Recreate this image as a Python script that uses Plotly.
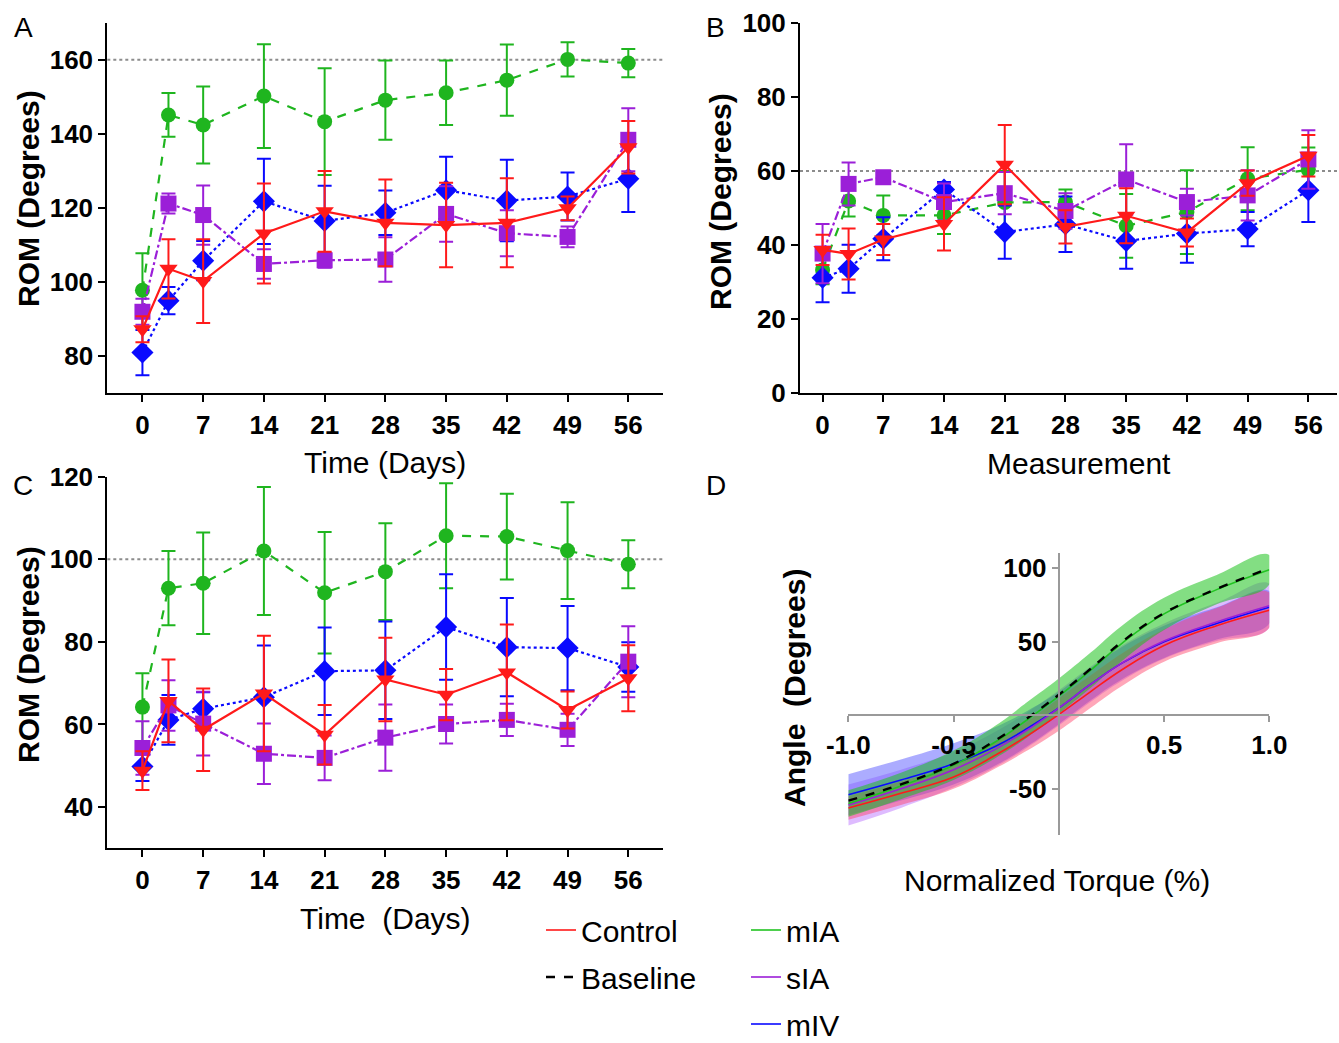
import plotly.graph_objects as go

W, H = 1339, 1043
FONT = "Liberation Sans, Arial, Helvetica, sans-serif"

# ---------------- data ----------------
days = [0, 3, 7, 14, 21, 28, 35, 42, 49, 56]
day_ticks = [0, 7, 14, 21, 28, 35, 42, 49, 56]
day_ticktext = ["0", "7", "14", "21", "28", "35", "42", "49", "56"]

# Panel A
A_mIA = [97.8, 145.1, 142.4, 150.2, 143.3, 149.1, 151.1, 154.5, 160.1, 159.1]
A_mIA_err = [10.0, 5.9, 10.4, 14.0, 14.4, 10.7, 8.7, 9.6, 4.6, 3.8]
A_mIV = [81.0, 95.0, 105.8, 121.8, 116.5, 118.7, 124.8, 122.0, 123.1, 127.9]
A_mIV_err = [6.1, 3.7, 5.3, 11.5, 9.5, 6.0, 9.0, 11.0, 6.5, 9.0]
A_sIA = [92.0, 121.2, 118.1, 104.9, 105.9, 106.1, 118.4, 113.2, 112.2, 138.4]
A_sIA_err = [3.5, 2.7, 8.0, 4.0, 2.0, 6.0, 7.5, 6.2, 2.8, 8.5]
A_control = [87.3, 103.6, 100.3, 113.1, 119.1, 116.0, 115.4, 116.0, 119.9, 136.4]
A_control_err = [3.5, 8.0, 11.3, 13.5, 10.9, 11.7, 11.4, 12.0, 3.2, 7.1]

# Panel B
B_mIA = [33.3, 51.9, 48.0, 48.0, 51.5, 51.6, 45.2, 48.9, 57.9, 60.3]
B_mIA_err = [3.9, 4.2, 5.4, 5.0, 8.5, 3.4, 8.6, 11.3, 8.5, 6.0]
B_mIV = [31.2, 33.6, 41.7, 55.0, 43.5, 45.6, 41.1, 43.1, 44.3, 54.8]
B_mIV_err = [6.6, 6.5, 5.8, 2.0, 7.2, 7.5, 7.5, 7.9, 4.6, 8.6]
B_sIA = [37.7, 56.5, 58.3, 51.6, 54.0, 49.2, 57.7, 51.6, 53.4, 63.1]
B_sIA_err = [8.0, 5.8, 1.5, 5.0, 5.7, 4.8, 9.5, 3.6, 6.8, 7.9]
B_control = [38.7, 37.6, 41.5, 45.7, 61.7, 44.9, 47.9, 43.4, 56.7, 64.1]
B_control_err = [4.1, 6.9, 4.2, 7.2, 10.7, 4.5, 7.4, 3.8, 3.4, 5.6]

# Panel C
C_mIA = [64.2, 93.0, 94.2, 102.0, 91.9, 97.0, 105.7, 105.5, 102.1, 98.8]
C_mIA_err = [8.2, 9.0, 12.3, 15.5, 14.7, 11.7, 12.7, 10.4, 11.7, 5.8]
C_mIV = [49.8, 61.1, 63.8, 66.6, 72.9, 73.1, 83.6, 78.7, 78.5, 73.9]
C_mIV_err = [3.5, 6.0, 4.0, 12.5, 10.6, 11.8, 12.8, 11.9, 10.2, 6.0]
C_sIA = [54.3, 64.6, 60.2, 52.9, 51.9, 56.8, 60.1, 61.1, 58.7, 75.2]
C_sIA_err = [6.5, 6.1, 7.7, 7.3, 5.4, 8.0, 4.7, 3.9, 3.9, 8.6]
C_control = [48.8, 65.7, 58.7, 67.5, 57.5, 70.9, 67.2, 72.6, 63.5, 71.2]
C_control_err = [4.7, 10.0, 10.0, 14.0, 7.2, 10.1, 6.2, 11.6, 4.5, 8.0]

ref_A, ref_B, ref_C = 160, 60, 100

# Panel D (fitted curves read at sample torques; band = half width)
torque = [-1.0, -0.75, -0.5, -0.3, -0.15, 0.0, 0.15, 0.3, 0.5, 0.75, 1.0]
D_baseline = [-58, -47, -33, -17, -2, 14, 31.5, 50, 69.5, 86, 100]
D_mIA = [-60, -48, -34, -18, -3, 13, 30.5, 49, 69, 85.5, 99]
D_mIA_band = [9, 9, 10, 11, 12, 12, 12, 12, 11, 10, 10]
D_control = [-63, -53, -42, -27, -14, 0.5, 16, 31, 47.5, 61, 71.5]
D_control_band = [8, 8, 8, 9, 10, 11, 11, 11, 11, 12, 12]
D_sIA = [-61, -50, -37, -23, -10, 5, 21, 35.5, 50.5, 63.5, 74.5]
D_sIA_band = [14, 13, 12, 12, 12, 12, 12, 12, 12, 13, 15]
D_mIV = [-54, -44, -33, -21, -9, 5, 21, 35.5, 50, 62.5, 73.5]
D_mIV_band = [14, 14, 14, 13, 12, 11, 11, 11, 11, 11, 11]

# ---------------- styles ----------------
COL = {"mIA": "#1fb51f", "sIA": "#9b1fd8", "mIV": "#0a0aff", "Control": "#ff1a1a"}
BAND = {"mIA": "rgba(30,195,30,0.55)", "sIA": "rgba(190,120,255,0.5)",
        "mIV": "rgba(90,90,255,0.5)", "Control": "rgba(255,60,100,0.45)"}
SYM = {"mIA": ("circle", 15), "sIA": ("square", 16), "mIV": ("diamond", 17), "Control": ("triangle-down", 16)}
DASH = {"mIA": "dash", "sIA": "dashdot", "mIV": "dot", "Control": "solid"}


def px_x(p):
    return p / W


def px_y(p):
    return 1 - p / H


fig = go.Figure()

panels = [
    ("x", "y", {"mIA": (A_mIA, A_mIA_err), "mIV": (A_mIV, A_mIV_err),
                "sIA": (A_sIA, A_sIA_err), "Control": (A_control, A_control_err)}),
    ("x2", "y2", {"mIA": (B_mIA, B_mIA_err), "mIV": (B_mIV, B_mIV_err),
                  "sIA": (B_sIA, B_sIA_err), "Control": (B_control, B_control_err)}),
    ("x3", "y3", {"mIA": (C_mIA, C_mIA_err), "mIV": (C_mIV, C_mIV_err),
                  "sIA": (C_sIA, C_sIA_err), "Control": (C_control, C_control_err)}),
]

for xa, ya, series in panels:
    for name in ["mIA", "mIV", "sIA", "Control"]:
        vals, errs = series[name]
        sym, size = SYM[name]
        fig.add_trace(go.Scatter(
            x=days, y=vals, xaxis=xa, yaxis=ya, mode="lines+markers",
            line=dict(color=COL[name], width=2.2, dash=DASH[name]),
            marker=dict(symbol=sym, size=size, color=COL[name], line=dict(width=0)),
            error_y=dict(type="data", array=errs, visible=True, color=COL[name], thickness=2, width=7),
            showlegend=False, name=name, cliponaxis=False,
        ))

# reference dotted lines
for ya, xa, val in [("y", "x", ref_A), ("y2", "x2", ref_B), ("y3", "x3", ref_C)]:
    fig.add_shape(type="line", xref=f"{xa} domain", yref=ya, x0=0, x1=1, y0=val, y1=val,
                  line=dict(color="#8c8c8c", width=2, dash="dot"), layer="below")

# Panel D bands
for name, mean, band in [("sIA", D_sIA, D_sIA_band), ("mIV", D_mIV, D_mIV_band),
                         ("Control", D_control, D_control_band), ("mIA", D_mIA, D_mIA_band)]:
    upper = [m + b for m, b in zip(mean, band)]
    lower = [m - b for m, b in zip(mean, band)]
    fig.add_trace(go.Scatter(
        x=torque + torque[::-1], y=upper + lower[::-1], xaxis="x4", yaxis="y4",
        mode="lines", fill="toself", fillcolor=BAND[name],
        line=dict(width=0, shape="spline", smoothing=1.2), showlegend=False, hoverinfo="skip",
    ))

LEG_FONT = dict(family=FONT, size=30, color="black")
# Panel D lines
d_lines = [
    ("mIV", D_mIV, COL["mIV"], "solid", 1.6, "legend2"),
    ("sIA", D_sIA, COL["sIA"], "solid", 1.6, "legend2"),
    ("mIA", D_mIA, "#22c322", "solid", 1.6, "legend2"),
    ("Control", D_control, COL["Control"], "solid", 1.6, "legend"),
    ("Baseline", D_baseline, "black", "dash", 2.4, "legend"),
]
order = {"Control": 1, "Baseline": 2, "mIA": 1, "sIA": 2, "mIV": 3}
for name, vals, c, dash, w, leg in d_lines:
    fig.add_trace(go.Scatter(
        x=torque, y=vals, xaxis="x4", yaxis="y4", mode="lines",
        line=dict(color=c, width=w, dash=dash, shape="spline", smoothing=1.2),
        name=name, legend=leg, legendgroup=name, legendrank=order[name], showlegend=True,
    ))

# ---------------- axes ----------------
tickfont = dict(family=FONT, size=26, color="black", weight="bold")
common = dict(showline=True, linecolor="black", linewidth=2, ticks="outside", ticklen=7,
              tickwidth=2, tickcolor="black", showgrid=False, zeroline=False, tickfont=tickfont,
              automargin=False)

A_xdom = [px_x(107.3), px_x(663)]
A_ydom = [px_y(393.3), px_y(22.7)]
B_xdom = [px_x(800), px_x(1337)]
C_ydom = [px_y(848.3), px_y(476.7)]
D_xdom = [px_x(848.3), px_x(1269.3)]
D_ydom = [px_y(835), px_y(553.3)]
D_xr = [-1.0, 1.0]
D_yr = [-81.4, 110.2]

xpos_D = D_ydom[0] + (0 - D_yr[0]) / (D_yr[1] - D_yr[0]) * (D_ydom[1] - D_ydom[0])
ypos_D = D_xdom[0] + (0 - D_xr[0]) / (D_xr[1] - D_xr[0]) * (D_xdom[1] - D_xdom[0])

fig.update_layout(
    xaxis=dict(domain=A_xdom, range=[-4.05, 60], tickvals=day_ticks, ticktext=day_ticktext, anchor="y", **common),
    yaxis=dict(domain=A_ydom, range=[70, 170], tickvals=[80, 100, 120, 140, 160], anchor="x", **common),
    xaxis2=dict(domain=B_xdom, range=[-2.6, 59.3], tickvals=day_ticks, ticktext=day_ticktext, anchor="y2", **common),
    yaxis2=dict(domain=A_ydom, range=[0, 100], tickvals=[0, 20, 40, 60, 80, 100], anchor="x2", **common),
    xaxis3=dict(domain=A_xdom, range=[-4.05, 60], tickvals=day_ticks, ticktext=day_ticktext, anchor="y3", **common),
    yaxis3=dict(domain=C_ydom, range=[30, 120], tickvals=[40, 60, 80, 100, 120], anchor="x3", **common),
    xaxis4=dict(domain=D_xdom, range=D_xr, anchor="free", position=xpos_D,
                tickvals=[-1, -0.5, 0.5, 1], ticktext=["-1.0", "-0.5", "0.5", "1.0"],
                showline=True, linecolor="#9a9a9a", linewidth=2, ticks="outside", ticklen=6,
                tickwidth=2, tickcolor="#9a9a9a", showgrid=False, zeroline=False, tickfont=tickfont,
                automargin=False),
    yaxis4=dict(domain=D_ydom, range=D_yr, anchor="free", position=ypos_D,
                tickvals=[-50, 50, 100], ticktext=["-50", "50", "100"],
                showline=True, linecolor="#9a9a9a", linewidth=2, ticks="outside", ticklen=6,
                tickwidth=2, tickcolor="#9a9a9a", showgrid=False, zeroline=False, tickfont=tickfont,
                automargin=False),
    width=W, height=H, margin=dict(l=0, r=0, t=0, b=0, autoexpand=False),
    plot_bgcolor="white", paper_bgcolor="white",
    font=dict(family=FONT, color="black"),
    legend=dict(x=px_x(541), y=px_y(904), xanchor="left", yanchor="top", font=LEG_FONT,
                bgcolor="rgba(0,0,0,0)", traceorder="grouped", tracegroupgap=5, itemwidth=30),
    legend2=dict(x=px_x(746), y=px_y(904), xanchor="left", yanchor="top", font=LEG_FONT,
                 bgcolor="rgba(0,0,0,0)", traceorder="grouped", tracegroupgap=5, itemwidth=30),
)

# ---------------- text annotations ----------------
ann = []
bold30 = dict(family=FONT, size=30, color="black", weight="bold")
norm30 = dict(family=FONT, size=30, color="black")
lab = dict(family=FONT, size=28, color="black")


def add_text(text, x, y, font, angle=0):
    ann.append(dict(text=text, x=px_x(x), y=px_y(y), xref="paper", yref="paper",
                    showarrow=False, font=font, textangle=angle, xanchor="center", yanchor="middle"))


add_text("A", 23, 28, lab)
add_text("B", 715, 28, lab)
add_text("C", 23, 485, lab)
add_text("D", 716, 485, lab)
add_text("ROM (Degrees)", 28, 199, bold30, -90)
add_text("ROM (Degrees)", 720, 202, bold30, -90)
add_text("ROM (Degrees)", 28, 655, bold30, -90)
add_text("Angle  (Degrees)", 794, 688, bold30, -90)
add_text("Time (Days)", 385, 462, norm30)
add_text("Measurement", 1079, 463, norm30)
add_text("Time  (Days)", 385, 918, norm30)
add_text("Normalized Torque (%)", 1057, 880, norm30)
fig.update_layout(annotations=ann)

fig.write_html("out.html", config={"displayModeBar": False},
               post_script="document.body.style.margin='0';document.body.style.overflow='hidden';")
